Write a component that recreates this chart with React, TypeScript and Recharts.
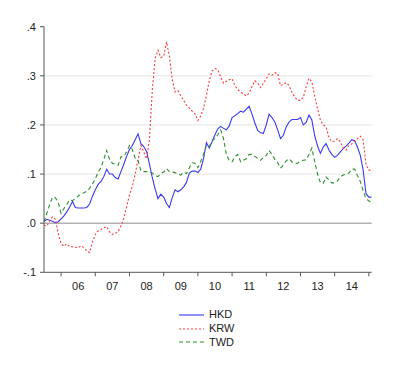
import React from 'react';
import { LineChart, Line, XAxis, YAxis, ReferenceLine } from 'recharts';

// Monthly observations, July 2005 .. February 2015
const START_YEAR = 2005;
const START_MONTH = 7;

const hkd = [
  0.003, 0.008, 0.006, 0.004, 0.001, 0.003, 0.009, 0.015, 0.023, 0.033, 0.044, 0.032,
  0.031, 0.031, 0.031, 0.032, 0.039, 0.055, 0.068, 0.079, 0.085, 0.095, 0.11, 0.10,
  0.10, 0.093, 0.09, 0.105, 0.12, 0.136, 0.15, 0.158, 0.17, 0.182, 0.162, 0.156,
  0.146, 0.12, 0.093, 0.07, 0.05, 0.059, 0.053, 0.04, 0.032, 0.052, 0.068, 0.064,
  0.068, 0.074, 0.083, 0.102, 0.106, 0.106, 0.103, 0.11, 0.132, 0.164, 0.153, 0.166,
  0.18, 0.192, 0.197, 0.193, 0.19, 0.198, 0.215, 0.219, 0.223, 0.228, 0.226, 0.232,
  0.238, 0.222, 0.204, 0.189, 0.184, 0.183, 0.2, 0.222, 0.215, 0.206, 0.19, 0.172,
  0.179, 0.196, 0.206, 0.211, 0.211, 0.211, 0.215, 0.2, 0.205, 0.22, 0.21, 0.178,
  0.157, 0.142, 0.155, 0.162, 0.149, 0.14, 0.134, 0.138, 0.145, 0.152, 0.157, 0.163,
  0.17, 0.168, 0.155, 0.138, 0.108, 0.06, 0.053, 0.053,
];

const krw = [
  -0.004, -0.006, 0.005, 0.013, 0.008, -0.021, -0.042, -0.047, -0.042, -0.048, -0.048, -0.049,
  -0.05, -0.046, -0.05, -0.056, -0.06, -0.038, -0.023, -0.016, -0.013, -0.009, -0.007, -0.018,
  -0.023, -0.021, -0.017, -0.006, 0.01, 0.033, 0.058, 0.075, 0.1, 0.13, 0.158, 0.145,
  0.131, 0.17, 0.27, 0.335, 0.352, 0.337, 0.34, 0.369, 0.34, 0.293, 0.267, 0.27,
  0.259, 0.25, 0.24, 0.234, 0.228, 0.222, 0.209, 0.218, 0.234, 0.26, 0.29, 0.31,
  0.315, 0.312, 0.298, 0.285, 0.289, 0.292, 0.294, 0.28, 0.272, 0.267, 0.263, 0.259,
  0.265, 0.278, 0.29, 0.285, 0.276, 0.285, 0.294, 0.304, 0.301, 0.306, 0.305, 0.28,
  0.283, 0.286, 0.28, 0.267, 0.257, 0.25, 0.25, 0.256, 0.278, 0.295, 0.288, 0.258,
  0.233, 0.21, 0.2, 0.196, 0.174, 0.166, 0.167, 0.172, 0.166, 0.153, 0.149, 0.158,
  0.161, 0.167, 0.172, 0.177, 0.17, 0.12, 0.108, 0.108,
];

const twd = [
  0.003, 0.02, 0.038, 0.053, 0.052, 0.042, 0.02, 0.03, 0.038, 0.047, 0.046, 0.05,
  0.055, 0.06, 0.062, 0.065, 0.071, 0.08, 0.09, 0.104, 0.113, 0.13, 0.148, 0.13,
  0.122, 0.12, 0.118, 0.135, 0.136, 0.145, 0.158, 0.15, 0.132, 0.128, 0.106, 0.105,
  0.105, 0.104, 0.102, 0.097, 0.095, 0.101, 0.104, 0.111, 0.105, 0.104, 0.103, 0.1,
  0.098, 0.104, 0.101, 0.113, 0.123, 0.122, 0.113, 0.126, 0.14, 0.159, 0.156, 0.168,
  0.172, 0.18, 0.19, 0.172, 0.14, 0.128, 0.125, 0.135, 0.14, 0.125, 0.128, 0.131,
  0.14, 0.14, 0.136, 0.132, 0.128, 0.134, 0.138, 0.148, 0.14, 0.13, 0.123, 0.112,
  0.119, 0.127, 0.131, 0.125, 0.122, 0.122, 0.127, 0.128, 0.129, 0.14, 0.153, 0.125,
  0.1, 0.082, 0.081, 0.094, 0.088, 0.082, 0.082, 0.086, 0.094, 0.098, 0.1, 0.102,
  0.11, 0.11, 0.097, 0.085, 0.066, 0.05, 0.045, 0.043,
];

const yTicks = [-0.1, 0.0, 0.1, 0.2, 0.3, 0.4];
const gridValues = [0.1, 0.2, 0.3];
const yearTicks = [2006, 2007, 2008, 2009, 2010, 2011, 2012, 2013, 2014, 2015];
const yearLabels = ['06', '07', '08', '09', '10', '11', '12', '13', '14'];

const series = [
  { key: 'HKD', color: '#3838f5', dash: undefined as string | undefined },
  { key: 'KRW', color: '#ff3a3a', dash: '2 2' },
  { key: 'TWD', color: '#2e8f2e', dash: '4 3' },
];

const startT = START_YEAR + (START_MONTH - 1) / 12;
const data = hkd.map((v, i) => ({
  t: startT + i / 12,
  HKD: v,
  KRW: krw[i],
  TWD: twd[i],
}));

const FONT = '"Liberation Sans", Arial, sans-serif';
const AXIS_COLOR = '#555555';
const TICK_SIZE = 4;
const TICK_MARGIN = 6;

// Ticks at year boundaries (marks) and mid-years (labels)
const xTicks: number[] = [];
yearTicks.forEach((y) => xTicks.push(y));
yearLabels.forEach((_, i) => xTicks.push(yearTicks[i] + 0.5));
xTicks.sort((a, b) => a - b);

const labelFor = (v: number) => {
  const idx = yearTicks.findIndex((y) => Math.abs(y + 0.5 - v) < 1e-6);
  return idx >= 0 ? yearLabels[idx] : '';
};

const XTick = (props: any) => {
  const { x, y, payload } = props;
  const v = payload.value as number;
  const axisY = y - TICK_SIZE - TICK_MARGIN;
  if (Math.abs(v - Math.round(v)) < 1e-6) {
    return <line x1={x} x2={x} y1={axisY} y2={axisY + TICK_SIZE} stroke={AXIS_COLOR} strokeWidth={1} />;
  }
  return (
    <text x={x} y={y} dy="0.71em" textAnchor="middle" fill="#222" fontSize={11} fontFamily={FONT}>
      {labelFor(v)}
    </text>
  );
};

const fmtY = (v: number) => {
  if (Math.abs(v) < 1e-9) return '.0';
  const s = '.' + Math.round(Math.abs(v) * 10);
  return v < 0 ? '-' + s : s;
};

export default function App() {
  return (
    <div style={{ position: 'absolute', left: 0, top: 0, width: 400, height: 375, background: '#fff' }}>
      <LineChart
        width={400}
        height={375}
        data={data}
        margin={{ top: 26.7, right: 28.3, bottom: 0, left: 0 }}
      >
        {gridValues.map((g) => (
          <ReferenceLine key={g} y={g} stroke="#e4e4e4" strokeWidth={1} />
        ))}
        <ReferenceLine y={0} stroke="#8c8c8c" strokeWidth={1} />
        <XAxis
          dataKey="t"
          type="number"
          domain={[startT, startT + (hkd.length - 1) / 12]}
          ticks={xTicks}
          interval={0}
          tick={<XTick />}
          tickLine={false}
          tickSize={TICK_SIZE}
          tickMargin={TICK_MARGIN}
          stroke={AXIS_COLOR}
          height={102.7}
          allowDataOverflow
        />
        <YAxis
          type="number"
          domain={[-0.1, 0.4]}
          ticks={yTicks}
          interval={0}
          tickFormatter={fmtY}
          tickSize={4}
          tickMargin={4}
          stroke={AXIS_COLOR}
          width={44}
          tick={{ fill: '#222', fontSize: 11, fontFamily: FONT }}
          allowDataOverflow
        />
        {series.map((s) => (
          <Line
            key={s.key}
            dataKey={s.key}
            type="linear"
            stroke={s.color}
            strokeWidth={1.1}
            strokeDasharray={s.dash}
            dot={false}
            activeDot={false}
            isAnimationActive={false}
          />
        ))}
      </LineChart>
      <div style={{ position: 'absolute', left: 178, top: 308, fontFamily: FONT, fontSize: 11, color: '#222' }}>
        {series.map((s) => (
          <div key={s.key} style={{ display: 'flex', alignItems: 'center', height: 13.7 }}>
            <svg width={27} height={8} style={{ display: 'block' }}>
              <line x1={1} x2={26} y1={4} y2={4} stroke={s.color} strokeWidth={1.1} strokeDasharray={s.dash} />
            </svg>
            <span style={{ marginLeft: 4, lineHeight: '13px' }}>{s.key}</span>
          </div>
        ))}
      </div>
    </div>
  );
}
